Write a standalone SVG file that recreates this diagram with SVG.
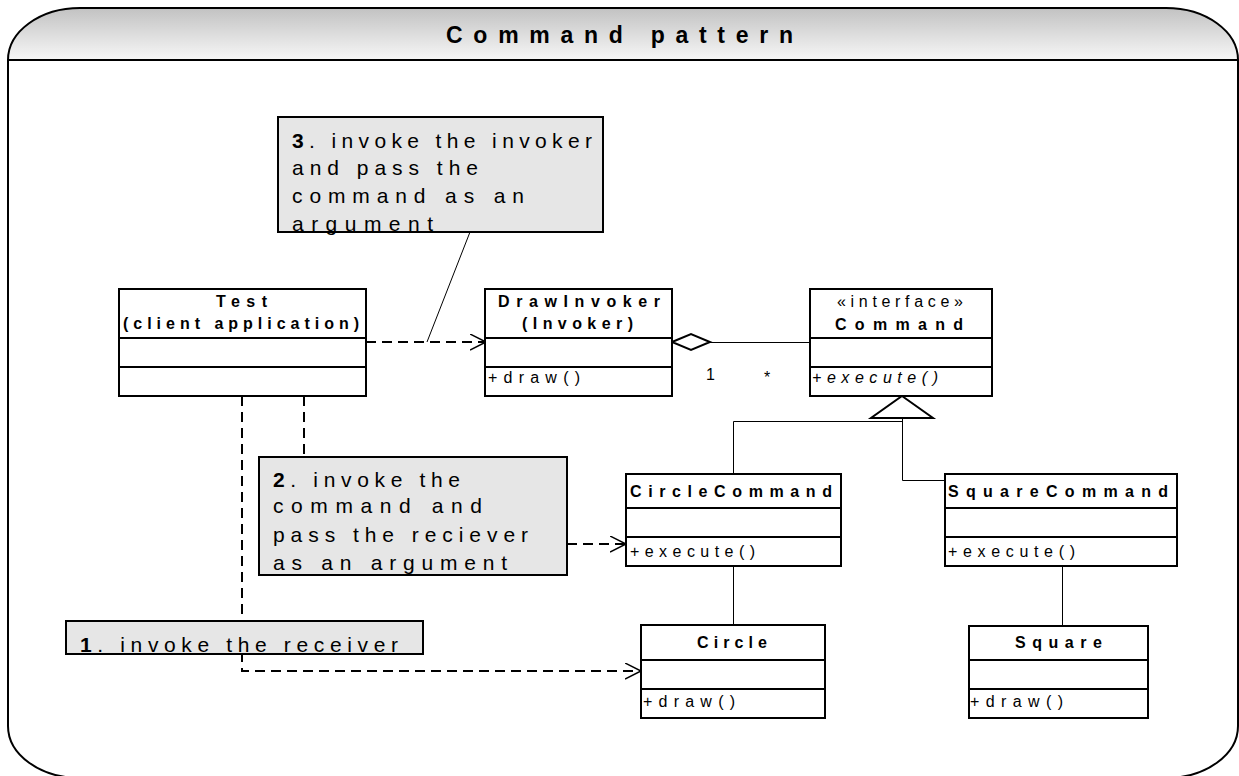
<svg xmlns="http://www.w3.org/2000/svg" width="1239" height="776" viewBox="0 0 1239 776">
<style>
  text { font-family: "Liberation Sans", Arial, sans-serif; fill: #000; }
  .lbl { font-size: 16px; }
  .b { font-weight: bold; }
  .it { font-style: italic; }
  .note-t { font-size: 21px; }
  .box { fill: #fff; stroke: #000; stroke-width: 2; }
  .div { stroke: #000; stroke-width: 2; }
  .note { fill: #e6e6e6; stroke: #000; stroke-width: 2; }
  .thin { fill: none; stroke: #000; stroke-width: 1; }
  .dash { fill: none; stroke: #000; stroke-width: 2; stroke-dasharray: 10 6; }
  .shape { fill: #fff; stroke: #000; stroke-width: 2; }
</style>
<defs>
  <linearGradient id="hdr" x1="0" y1="0" x2="0" y2="1">
    <stop offset="0" stop-color="#c2c2c2"/>
    <stop offset="1" stop-color="#f7f7f7"/>
  </linearGradient>
  <marker id="open" markerUnits="userSpaceOnUse" markerWidth="18" markerHeight="18" refX="16" refY="8" orient="auto" viewBox="0 0 18 18">
    <path d="M0,0 L16,8 L0,16" fill="none" stroke="#000" stroke-width="1.5"/>
  </marker>
</defs>

<g id="frame">
  <rect x="8" y="8" width="1230" height="770" rx="72" ry="52" fill="#fff"/>
  <path d="M8,60 A72,52 0 0 1 80,8 H1166 A72,52 0 0 1 1238,60 Z" fill="url(#hdr)"/>
  <rect x="8" y="8" width="1230" height="770" rx="72" ry="52" fill="none" stroke="#000" stroke-width="2"/>
  <line x1="8" y1="60" x2="1238" y2="60" stroke="#000" stroke-width="2"/>
  <text x="446" y="43" font-size="23" class="b" textLength="347" lengthAdjust="spacing">Command pattern</text>
</g>

<g id="connectors">
  <path class="dash" d="M366,342 H486" marker-end="url(#open)"/>
  <line class="thin" x1="470" y1="232" x2="427" y2="342"/>
  <line class="thin" x1="710" y1="342.5" x2="810" y2="342.5"/>
  <polygon class="shape" points="672,342 691,334 710,342 691,350"/>
  <text x="706" y="380" class="lbl">1</text>
  <text x="764" y="383" class="lbl">*</text>
  <polyline class="thin" points="902.5,418 902.5,480.5 1025,480.5"/>
  <polyline class="thin" points="902.5,421.5 733.5,421.5 733.5,474"/>
  <polygon class="shape" points="902,396 933,418 871,418"/>
  <line class="thin" x1="733.5" y1="566" x2="733.5" y2="625"/>
  <line class="thin" x1="1062.5" y1="566" x2="1062.5" y2="626"/>
  <path class="dash" d="M304,396 V457"/>
  <path class="dash" d="M567,544 H626" marker-end="url(#open)"/>
  <path class="dash" d="M242,396 V671 H641" marker-end="url(#open)"/>
</g>

<g id="note3">
  <rect class="note" x="278" y="117" width="325" height="115"/>
  <text x="292" y="148" class="note-t" textLength="300" lengthAdjust="spacing"><tspan class="b">3</tspan>. invoke the invoker</text>
  <text x="292" y="175" class="note-t" textLength="186" lengthAdjust="spacing">and pass the</text>
  <text x="292" y="203" class="note-t" textLength="232" lengthAdjust="spacing">command as an</text>
  <text x="292" y="231" class="note-t" textLength="141" lengthAdjust="spacing">argument</text>
</g>

<g id="test">
  <rect class="box" x="119" y="289" width="247" height="107"/>
  <line class="div" x1="119" y1="338" x2="366" y2="338"/>
  <line class="div" x1="119" y1="367" x2="366" y2="367"/>
  <text x="216" y="307" class="lbl b" textLength="51" lengthAdjust="spacing">Test</text>
  <text x="123" y="329" class="lbl b" textLength="236" lengthAdjust="spacing">(client application)</text>
</g>

<g id="drawinvoker">
  <rect class="box" x="485" y="289" width="187" height="107"/>
  <line class="div" x1="485" y1="338" x2="672" y2="338"/>
  <line class="div" x1="485" y1="367" x2="672" y2="367"/>
  <text x="498" y="307" class="lbl b" textLength="162" lengthAdjust="spacing">DrawInvoker</text>
  <text x="522" y="329" class="lbl b" textLength="111" lengthAdjust="spacing">(Invoker)</text>
  <text x="488" y="383" class="lbl" textLength="92" lengthAdjust="spacing">+draw()</text>
</g>

<g id="command">
  <rect class="box" x="810" y="289" width="182" height="107"/>
  <line class="div" x1="810" y1="338" x2="992" y2="338"/>
  <line class="div" x1="810" y1="367" x2="992" y2="367"/>
  <text x="837" y="307" class="lbl" textLength="126" lengthAdjust="spacing">«interface»</text>
  <text x="835" y="330" class="lbl b" textLength="128" lengthAdjust="spacing">Command</text>
  <text x="812" y="383" class="lbl it" textLength="126" lengthAdjust="spacing">+execute()</text>
</g>

<g id="note2">
  <rect class="note" x="259" y="457" width="308" height="118"/>
  <text x="273" y="487" class="note-t" textLength="187" lengthAdjust="spacing"><tspan class="b">2</tspan>. invoke the</text>
  <text x="273" y="513" class="note-t" textLength="209" lengthAdjust="spacing">command and</text>
  <text x="273" y="542" class="note-t" textLength="255" lengthAdjust="spacing">pass the reciever</text>
  <text x="273" y="570" class="note-t" textLength="234" lengthAdjust="spacing">as an argument</text>
</g>

<g id="circlecommand">
  <rect class="box" x="626" y="474" width="215" height="92"/>
  <line class="div" x1="626" y1="508" x2="841" y2="508"/>
  <line class="div" x1="626" y1="537" x2="841" y2="537"/>
  <text x="630" y="497" class="lbl b" textLength="202" lengthAdjust="spacing">CircleCommand</text>
  <text x="630" y="557" class="lbl" textLength="125" lengthAdjust="spacing">+execute()</text>
</g>

<g id="squarecommand">
  <rect class="box" x="945" y="474" width="232" height="92"/>
  <line class="div" x1="945" y1="508" x2="1177" y2="508"/>
  <line class="div" x1="945" y1="537" x2="1177" y2="537"/>
  <text x="948" y="497" class="lbl b" textLength="220" lengthAdjust="spacing">SquareCommand</text>
  <text x="948" y="557" class="lbl" textLength="127" lengthAdjust="spacing">+execute()</text>
</g>

<g id="note1">
  <rect class="note" x="66" y="621" width="357" height="33"/>
  <text x="80" y="652" class="note-t" textLength="318" lengthAdjust="spacing"><tspan class="b">1</tspan>. invoke the receiver</text>
</g>

<g id="circle">
  <rect class="box" x="641" y="625" width="184" height="93"/>
  <line class="div" x1="641" y1="660" x2="825" y2="660"/>
  <line class="div" x1="641" y1="689" x2="825" y2="689"/>
  <text x="697" y="648" class="lbl b" textLength="70" lengthAdjust="spacing">Circle</text>
  <text x="643" y="707" class="lbl" textLength="92" lengthAdjust="spacing">+draw()</text>
</g>

<g id="square">
  <rect class="box" x="969" y="626" width="179" height="92"/>
  <line class="div" x1="969" y1="660" x2="1148" y2="660"/>
  <line class="div" x1="969" y1="689" x2="1148" y2="689"/>
  <text x="1015" y="648" class="lbl b" textLength="87" lengthAdjust="spacing">Square</text>
  <text x="970" y="707" class="lbl" textLength="93" lengthAdjust="spacing">+draw()</text>
</g>
</svg>
